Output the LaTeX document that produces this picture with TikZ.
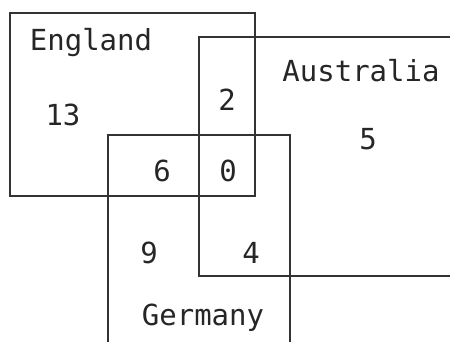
\documentclass[tikz,border=0pt]{standalone}
\usepackage{fontspec}
\setmonofont{DejaVu Sans Mono}
\usepackage{tikz}

\begin{document}
\begin{tikzpicture}[x=0.5pt, y=-0.5pt, every node/.style={font=\ttfamily\fontsize{14.5}{17}\selectfont, text=black!85}]
	\clip (0,0) rectangle (450,342);
	\fill[white] (0,0) rectangle (450,342);
	% the three sets
	\draw[black!80, line width=1.1pt] (10,13) rectangle (255,196);
	\draw[black!80, line width=1.1pt] (199,37) rectangle (470,276);
	\draw[black!80, line width=1.1pt] (108,135) rectangle (290,360);
	% set names
	\node (england) at (91,43) {England};
	\node (australia) at (361,71) {Australia};
	\node (germany) at (203,318) {Germany};
	% counts
	\node (eOnly) at (63,115) {13};
	\node (ea) at (227,100) {2};
	\node (aOnly) at (368,139) {5};
	\node (eg) at (162,171) {6};
	\node (ega) at (228,171) {0};
	\node (gOnly) at (149,253) {9};
	\node (ga) at (251,253) {4};
\end{tikzpicture}
\end{document}
